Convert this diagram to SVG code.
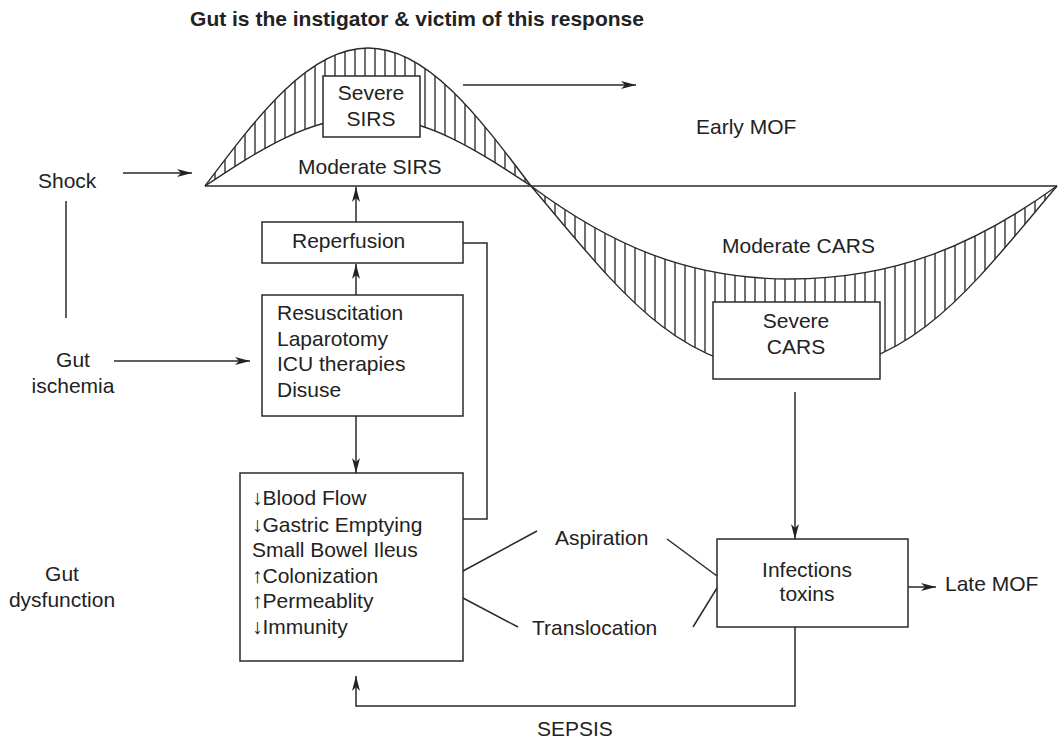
<svg xmlns="http://www.w3.org/2000/svg" width="1059" height="739" viewBox="0 0 1059 739">
  <style>
    text { font-family: "Liberation Sans", Arial, sans-serif; font-size: 21px; fill: #222; }
    .title { font-weight: bold; }
    .mid { text-anchor: middle; }
    .box { fill: #fff; stroke: #2a2a2a; stroke-width: 1.5; }
    .ln { fill: none; stroke: #2a2a2a; stroke-width: 1.5; }
    .arr { fill: none; stroke: #2a2a2a; stroke-width: 1.5; marker-end: url(#head); }
    .curve { fill: none; stroke: #2a2a2a; stroke-width: 1.4; }
  </style>
  <defs>
    <marker id="head" viewBox="0 0 15 10" refX="15" refY="5" markerWidth="15" markerHeight="10" orient="auto" markerUnits="userSpaceOnUse">
      <path d="M0,1 L15,5 L0,9 L4,5 Z" fill="#222"/>
    </marker>
    <pattern id="hatch" width="10" height="10" patternUnits="userSpaceOnUse">
      <line x1="5" y1="0" x2="5" y2="10" stroke="#222" stroke-width="1.3"/>
    </pattern>
  </defs>

  <rect width="1059" height="739" fill="#fff"/>

  <text class="title mid" x="417" y="26">Gut is the instigator &amp; victim of this response</text>

  <!-- inflammatory response wave: SIRS hump above the axis, CARS trough below -->
  <g id="wave">
    <path d="M205,186 C258.2,115.3 309,48 368,48 C427,48 477.8,115.3 531,186 C477.8,150.7 427,117 368,117 C309,117 258.2,150.7 205,186 Z" fill="url(#hatch)"/>
    <path d="M531,186 C616.8,287 675.7,372 794,372 C912.3,372 971.2,287 1057,186 C976.9,243.7 896.8,279 790,279 C686.4,279 608.7,243.7 531,186 Z" fill="url(#hatch)"/>
    <path class="curve" d="M205,186 C258.2,115.3 309,48 368,48 C427,48 477.8,115.3 531,186"/>
    <path class="curve" d="M205,186 C258.2,150.7 309,117 368,117 C427,117 477.8,150.7 531,186"/>
    <path class="curve" d="M531,186 C616.8,287 675.7,372 794,372 C912.3,372 971.2,287 1057,186"/>
    <path class="curve" d="M531,186 C608.7,243.7 686.4,279 790,279 C896.8,279 976.9,243.7 1057,186"/>
    <line class="ln" x1="205" y1="186" x2="1057" y2="186"/>
  </g>

  <g id="severe-sirs">
    <rect class="box" x="323" y="76" width="97" height="61"/>
    <text class="mid" x="371" y="100">Severe</text>
    <text class="mid" x="371" y="126">SIRS</text>
  </g>
  <g id="moderate-sirs"><text x="298" y="174">Moderate SIRS</text></g>
  <g id="early-mof"><text x="696" y="134">Early MOF</text></g>

  <g id="severe-cars">
    <rect class="box" x="713" y="302" width="167" height="77"/>
    <text class="mid" x="796" y="328">Severe</text>
    <text class="mid" x="796" y="354">CARS</text>
  </g>
  <g id="moderate-cars"><text x="722" y="253">Moderate CARS</text></g>

  <g id="shock"><text x="38" y="188">Shock</text></g>
  <g id="gut-ischemia">
    <text class="mid" x="73" y="367">Gut</text>
    <text class="mid" x="73" y="393">ischemia</text>
  </g>
  <g id="gut-dysfunction-label">
    <text class="mid" x="62" y="581">Gut</text>
    <text class="mid" x="62" y="607">dysfunction</text>
  </g>

  <g id="reperfusion">
    <rect class="box" x="262" y="222" width="201" height="41"/>
    <text x="292" y="248">Reperfusion</text>
  </g>

  <g id="interventions">
    <rect class="box" x="262" y="295" width="201" height="121"/>
    <text x="277" y="320">Resuscitation</text>
    <text x="277" y="346">Laparotomy</text>
    <text x="277" y="371">ICU therapies</text>
    <text x="277" y="397">Disuse</text>
  </g>

  <g id="gut-dysfunction">
    <rect class="box" x="240" y="473" width="223" height="188"/>
    <text x="252" y="505">↓Blood Flow</text>
    <text x="252" y="532">↓Gastric Emptying</text>
    <text x="252" y="557">Small Bowel Ileus</text>
    <text x="252" y="583">↑Colonization</text>
    <text x="252" y="608">↑Permeablity</text>
    <text x="252" y="634">↓Immunity</text>
  </g>

  <g id="aspiration"><text x="555" y="545">Aspiration</text></g>
  <g id="translocation"><text x="532" y="635">Translocation</text></g>

  <g id="infections">
    <rect class="box" x="717" y="539" width="191" height="88"/>
    <text class="mid" x="807" y="577">Infections</text>
    <text class="mid" x="807" y="601">toxins</text>
  </g>
  <g id="late-mof"><text x="945" y="591">Late MOF</text></g>
  <g id="sepsis"><text x="537" y="736">SEPSIS</text></g>

  <g id="connectors">
    <line class="arr" x1="123" y1="173" x2="192" y2="173"/>
    <line class="ln" x1="66" y1="201" x2="66" y2="318"/>
    <line class="arr" x1="114" y1="361" x2="250" y2="361"/>
    <line class="arr" x1="463" y1="85" x2="636" y2="85"/>
    <line class="arr" x1="356" y1="222" x2="356" y2="187"/>
    <line class="arr" x1="356" y1="295" x2="356" y2="264"/>
    <line class="arr" x1="356" y1="416" x2="356" y2="473"/>
    <path class="ln" d="M463,243 H487 V519 H463"/>
    <line class="ln" x1="463" y1="571" x2="537" y2="531"/>
    <line class="ln" x1="463" y1="598" x2="518" y2="627"/>
    <line class="ln" x1="667" y1="539" x2="717" y2="576"/>
    <line class="ln" x1="693" y1="627" x2="717" y2="588"/>
    <line class="arr" x1="795" y1="392" x2="795" y2="539"/>
    <line class="arr" x1="908" y1="587" x2="936" y2="587"/>
    <path class="arr" d="M795,627 V706 H356 V676"/>
  </g>
</svg>
